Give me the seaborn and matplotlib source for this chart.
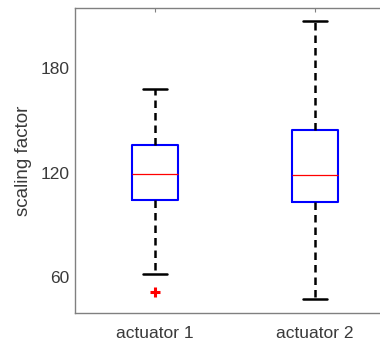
import numpy as np
import pandas as pd
import matplotlib
matplotlib.use("Agg")
import matplotlib.pyplot as plt
import seaborn as sns

# Five-number summaries of the scaling factor per actuator
actuators = ["actuator 1", "actuator 2"]
lower_whisker = [61.9, 47.4]
q1 = [104.5, 103.0]
median = [119.2, 118.7]
q3 = [136.0, 144.5]
upper_whisker = [168.0, 207.0]

# Points beyond the whiskers
outlier_actuator = ["actuator 1"]
outlier_value = [51.4]

yticks = [60, 120, 180]

sns.set_style("white")
plt.rcParams["font.family"] = ["Liberation Sans", "DejaVu Sans"]

rows = []
for i, name in enumerate(actuators):
    for v in (lower_whisker[i], q1[i], median[i], q3[i], upper_whisker[i]):
        rows.append({"actuator": name, "value": v})
df = pd.DataFrame(rows)

fig = plt.figure(figsize=(3.80, 3.42), dpi=100)
ax = fig.add_axes([75 / 380, 29 / 342, 305 / 380, 305 / 342])

sns.boxplot(
    data=df, x="actuator", y="value", order=actuators, ax=ax,
    whis=np.inf, fill=False, width=0.29, capwidths=0.15,
    boxprops=dict(color="#0000ff", linewidth=1.5),
    medianprops=dict(color="#ff0000", linewidth=0.9),
    whiskerprops=dict(color="black", linewidth=1.8, linestyle=(0, (3.0, 2.0))),
    capprops=dict(color="black", linewidth=1.8),
)

sns.stripplot(
    x=outlier_actuator, y=outlier_value, order=actuators, ax=ax,
    jitter=False, marker="+", color="#ff0000", s=7, linewidth=2.2,
)

ax.set_xlim(-0.5, 1.406)
ax.set_ylim(39.5, 214.6)
ax.set_yticks(yticks)
ax.set_xticks(range(len(actuators)))
ax.set_xticklabels(actuators)
ax.set_xlabel("")
ax.set_ylabel("scaling factor", fontsize=13.5, color="#3a3a3a", labelpad=6)

ax.tick_params(axis="both", direction="in", length=3, width=0.8,
               colors="#808080", labelcolor="#3a3a3a", labelsize=12.5)
ax.tick_params(axis="x", top=True, pad=9)
ax.tick_params(axis="y", pad=4)

for side in ("left", "bottom", "top"):
    ax.spines[side].set_visible(True)
    ax.spines[side].set_color("#808080")
    ax.spines[side].set_linewidth(1.0)
ax.spines["right"].set_visible(False)

fig.savefig("out.png", dpi=100)
